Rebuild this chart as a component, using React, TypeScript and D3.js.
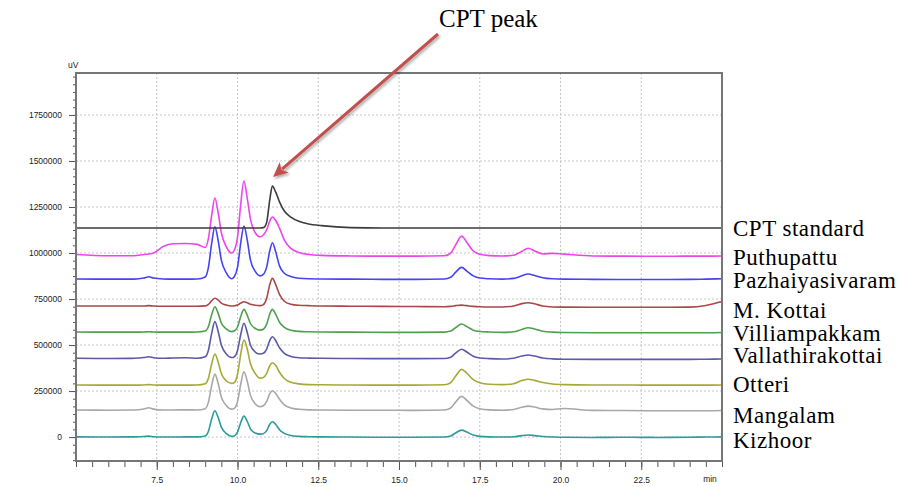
import React, { useEffect, useRef } from 'react';
import * as d3 from 'd3';

// retention time grid (min) shared by every trace
const retentionTimes = [
    5.0, 6.0, 6.8, 7.1, 7.25, 7.4, 7.7, 8.0, 8.4, 8.75,
    9.0, 9.1, 9.2, 9.3, 9.4, 9.5, 9.65, 9.82, 9.9, 10.0,
    10.1, 10.2, 10.3, 10.4, 10.55, 10.7, 10.8, 10.9, 11.0, 11.08,
    11.18, 11.3, 11.45, 11.65, 11.9, 12.2, 12.6, 13.5, 14.5, 15.5,
    16.4, 16.6, 16.75, 16.94, 17.1, 17.3, 17.5, 17.8, 18.2, 18.55,
    18.8, 19.0, 19.2, 19.45, 19.75, 20.1, 21.0, 22.0, 23.0, 24.0,
    24.5, 25.0,
];

// detector response in thousands of uV, one value per retention time
const cptStandard = [
    1136, 1136, 1136, 1136, 1136, 1136, 1136, 1136, 1136, 1136,
    1136, 1136, 1136, 1136, 1136, 1136, 1136, 1136, 1136, 1136,
    1136, 1136, 1136, 1136, 1136, 1136, 1138, 1165, 1290, 1364,
    1332, 1278, 1228, 1195, 1172, 1158, 1149, 1138, 1136, 1136,
    1136, 1136, 1136, 1136, 1136, 1136, 1136, 1136, 1136, 1136,
    1136, 1136, 1136, 1136, 1136, 1136, 1136, 1136, 1136, 1136,
    1136, 1136,
];
const puthupattu = [
    992, 985, 985, 992, 995, 1000, 1035, 1050, 1052, 1047,
    1030, 1080, 1205, 1299, 1220, 1110, 1035, 1000, 1015, 1085,
    1265, 1391, 1300, 1185, 1110, 1088, 1098, 1125, 1175, 1196,
    1178, 1135, 1070, 1025, 1003, 992, 987, 984, 983, 983,
    985, 999, 1043, 1092, 1057, 1011, 993, 986, 984, 988,
    1009, 1026, 1011, 995, 998, 994, 984, 983, 982, 983,
    983, 984,
];
const pazhaiyasivaram = [
    859, 858, 858, 864, 871, 864, 859, 858, 858, 859,
    870, 922, 1052, 1143, 1069, 961, 893, 860, 871, 922,
    1055, 1147, 1072, 963, 900, 876, 884, 922, 1012, 1056,
    1008, 930, 890, 872, 863, 860, 859, 858, 857, 857,
    859, 868, 895, 922, 902, 876, 864, 860, 858, 862,
    876, 886, 878, 866, 860, 858, 857, 856, 856, 857,
    858, 860,
];
const mKottai = [
    712, 712, 712, 712, 714, 712, 711, 711, 711, 711,
    713, 721, 741, 754, 745, 728, 717, 712, 713, 717,
    728, 735, 730, 722, 716, 714, 720, 752, 829, 862,
    830, 775, 738, 722, 716, 714, 712, 711, 710, 709,
    708, 710, 714, 717, 714, 710, 708, 707, 707, 712,
    725, 730, 724, 712, 707, 706, 705, 705, 705, 706,
    715, 736,
];
const villiampakkam = [
    571, 570, 570, 571, 572, 571, 570, 570, 570, 571,
    576, 601, 664, 708, 672, 620, 588, 573, 576, 598,
    655, 694, 662, 617, 590, 581, 586, 612, 669, 694,
    668, 624, 596, 580, 574, 572, 571, 570, 569, 569,
    570, 576, 594, 614, 600, 581, 574, 571, 569, 572,
    585, 594, 587, 575, 570, 568, 567, 567, 567, 567,
    567, 568,
];
const vallathirakottai = [
    428, 427, 428, 432, 436, 431, 428, 430, 431, 428,
    436, 472, 563, 627, 575, 500, 452, 432, 436, 470,
    557, 618, 570, 500, 462, 451, 455, 477, 525, 545,
    525, 485, 455, 438, 431, 429, 428, 427, 426, 426,
    427, 434, 456, 477, 462, 439, 430, 426, 424, 428,
    440, 446, 440, 430, 425, 423, 422, 422, 422, 422,
    423, 424,
];
const otteri = [
    283, 282, 282, 283, 285, 283, 282, 282, 282, 283,
    290, 320, 397, 451, 408, 345, 306, 292, 296, 340,
    450, 527, 480, 400, 345, 320, 324, 345, 388, 404,
    390, 352, 318, 298, 289, 285, 284, 283, 282, 282,
    284, 295, 330, 368, 347, 312, 295, 287, 285, 290,
    307, 314, 308, 296, 288, 285, 283, 283, 282, 282,
    282, 283,
];
const mangalam = [
    147, 146, 147, 153, 159, 152, 147, 147, 148, 147,
    154, 190, 280, 342, 292, 218, 172, 152, 156, 192,
    287, 355, 305, 228, 180, 165, 170, 192, 236, 252,
    238, 205, 175, 158, 151, 148, 147, 146, 146, 145,
    147, 158, 190, 221, 200, 168, 154, 148, 146, 150,
    162, 168, 163, 153, 150, 155, 145, 144, 143, 143,
    143, 144,
];
const kizhoor = [
    1, 0, 1, 3, 5, 2, 0, 0, 1, 1,
    6, 32, 98, 143, 106, 54, 20, 4, 6, 27,
    79, 114, 86, 45, 22, 16, 18, 35, 70, 83,
    70, 40, 20, 9, 4, 2, 1, 0, -1, -1,
    0, 6, 22, 38, 27, 11, 4, 1, 0, 2,
    8, 11, 8, 3, 0, -1, -2, -1, -2, -1,
    0, 1,
];

const sampleNames = [
    'CPT standard',
    'Puthupattu',
    'Pazhaiyasivaram',
    'M. Kottai',
    'Villiampakkam',
    'Vallathirakottai',
    'Otteri',
    'Mangalam',
    'Kizhoor',
];
const sampleTraces = [
    cptStandard,
    puthupattu,
    pazhaiyasivaram,
    mKottai,
    villiampakkam,
    vallathirakottai,
    otteri,
    mangalam,
    kizhoor,
];

const xTickValues = [7.5, 10, 12.5, 15, 17.5, 20, 22.5];
const yTickValues = [0, 250000, 500000, 750000, 1000000, 1250000, 1500000, 1750000];

// styling / layout
const traceColors = [
    '#3c3c3c',
    '#ee44ee',
    '#4444f2',
    '#a84848',
    '#4ea04e',
    '#5a5aa8',
    '#a8a838',
    '#a8a8a8',
    '#2e9a9a',
];
const labelBaselines = [236, 265, 288, 318, 341, 363, 392, 423, 448];

const Chromatogram: React.FC = () => {
    const ref = useRef<SVGSVGElement>(null);

    useEffect(() => {
        const width = 917;
        const height = 487;
        const margin = { top: 73, right: 195, bottom: 26, left: 76 };

        d3.select(ref.current).selectAll('*').remove();
        const svg = d3.select(ref.current).attr('width', width).attr('height', height);

        const x = d3
            .scaleLinear()
            .domain([5, 25])
            .range([margin.left, width - margin.right]);
        const y = d3
            .scaleLinear()
            .domain([-130000, 1978000])
            .range([height - margin.bottom, margin.top]);

        const defs = svg.append('defs');
        const shadow = defs.append('filter').attr('id', 'arrow-shadow').attr('x', '-20%').attr('y', '-20%').attr('width', '140%').attr('height', '140%');
        shadow
            .append('feDropShadow')
            .attr('dx', 1.5)
            .attr('dy', 2)
            .attr('stdDeviation', 1.2)
            .attr('flood-color', '#000')
            .attr('flood-opacity', 0.3);

        // dotted grid
        const grid = svg.append('g').attr('stroke', '#c6c6c6').attr('stroke-dasharray', '2,2');
        grid.selectAll('line.vgrid')
            .data(xTickValues)
            .join('line')
            .attr('class', 'vgrid')
            .attr('x1', (d) => x(d))
            .attr('x2', (d) => x(d))
            .attr('y1', margin.top)
            .attr('y2', height - margin.bottom);
        grid.selectAll('line.hgrid')
            .data(yTickValues)
            .join('line')
            .attr('class', 'hgrid')
            .attr('x1', margin.left)
            .attr('x2', width - margin.right)
            .attr('y1', (d) => y(d))
            .attr('y2', (d) => y(d));

        // minor ticks
        const yMinor = d3.range(-3, 48).map((i) => (i * 250000) / 6);
        const xMinor = d3.range(0, 41).map((i) => 5 + i * 0.5);

        const axisFont = (g: d3.Selection<SVGGElement, unknown, null, undefined>) => {
            g.select('.domain').remove();
            g.selectAll('line').attr('stroke', '#555');
            g.selectAll('text')
                .attr('fill', '#222')
                .style('font-family', '"Liberation Sans", Arial, sans-serif')
                .style('font-size', '8.5px');
        };

        svg.append('g')
            .attr('transform', `translate(${margin.left},0)`)
            .call(d3.axisLeft(y).tickValues(yMinor).tickSize(3).tickFormat(() => ''))
            .call(axisFont);
        svg.append('g')
            .attr('transform', `translate(${margin.left},0)`)
            .call(d3.axisLeft(y).tickValues(yTickValues).tickSize(7).tickPadding(7).tickFormat(d3.format('d')))
            .call(axisFont);

        svg.append('g')
            .attr('transform', `translate(0,${height - margin.bottom + 1})`)
            .call(d3.axisBottom(x).tickValues(xMinor).tickSize(5).tickFormat(() => ''))
            .call(axisFont);
        svg.append('g')
            .attr('transform', `translate(0,${height - margin.bottom + 1})`)
            .call(d3.axisBottom(x).tickValues(xTickValues).tickSize(8).tickPadding(7).tickFormat(d3.format('.1f')))
            .call(axisFont);

        svg.append('text')
            .attr('x', x(25) - 12)
            .attr('y', height - 5)
            .attr('text-anchor', 'middle')
            .attr('fill', '#222')
            .style('font-family', '"Liberation Sans", Arial, sans-serif')
            .style('font-size', '8.5px')
            .text('min');

        svg.append('text')
            .attr('x', margin.left - 8)
            .attr('y', margin.top - 5)
            .attr('fill', '#222')
            .style('font-family', '"Liberation Sans", Arial, sans-serif')
            .style('font-size', '8.5px')
            .text('uV');

        // traces
        const line = d3
            .line<number>()
            .x((_, i) => x(retentionTimes[i]))
            .y((d) => y(d * 1000))
            .curve(d3.curveMonotoneX);

        const traceOrder = d3.range(sampleTraces.length).reverse();
        svg.append('g')
            .selectAll('path')
            .data(traceOrder)
            .join('path')
            .attr('d', (i) => line(sampleTraces[i]))
            .attr('fill', 'none')
            .attr('stroke', (i) => traceColors[i])
            .attr('stroke-width', 1.6)
            .attr('stroke-linejoin', 'round');

        // plot frame
        svg.append('rect')
            .attr('x', margin.left)
            .attr('y', margin.top)
            .attr('width', width - margin.left - margin.right)
            .attr('height', height - margin.top - margin.bottom)
            .attr('fill', 'none')
            .attr('stroke', '#767676')
            .attr('stroke-width', 2);

        // sample labels
        svg.append('g')
            .selectAll('text')
            .data(sampleNames)
            .join('text')
            .attr('x', width - margin.right + 11)
            .attr('y', (_, i) => labelBaselines[i])
            .attr('fill', '#000')
            .style('font-family', '"Liberation Serif", "Times New Roman", serif')
            .style('font-size', '23px')
            .style('letter-spacing', '0.5px')
            .text((d) => d);

        // CPT peak annotation
        svg.append('text')
            .attr('x', 439)
            .attr('y', 27)
            .attr('fill', '#000')
            .style('font-family', '"Liberation Serif", "Times New Roman", serif')
            .style('font-size', '25px')
            .text('CPT peak');

        const arrowStart: [number, number] = [438, 34];
        const arrowTip: [number, number] = [273, 177];
        const dx = arrowTip[0] - arrowStart[0];
        const dy = arrowTip[1] - arrowStart[1];
        const len = Math.hypot(dx, dy);
        const ux = dx / len;
        const uy = dy / len;
        const headLen = 15;
        const headHalf = 7;
        const baseX = arrowTip[0] - ux * headLen;
        const baseY = arrowTip[1] - uy * headLen;
        const arrow = svg.append('g').attr('filter', 'url(#arrow-shadow)');
        arrow.append('line')
            .attr('x1', arrowStart[0])
            .attr('y1', arrowStart[1])
            .attr('x2', baseX + ux * 3)
            .attr('y2', baseY + uy * 3)
            .attr('stroke', '#c0504d')
            .attr('stroke-width', 3);
        arrow.append('path')
            .attr(
                'd',
                `M${arrowTip[0]},${arrowTip[1]}L${baseX - uy * headHalf},${baseY + ux * headHalf}L${baseX + ux * 4},${baseY + uy * 4}L${baseX + uy * headHalf},${baseY - ux * headHalf}Z`
            )
            .attr('fill', '#c0504d');
    }, []);

    return <svg ref={ref} style={{ position: 'absolute', left: 0, top: 0 }}></svg>;
};

export default function App() {
    return <Chromatogram />;
}
